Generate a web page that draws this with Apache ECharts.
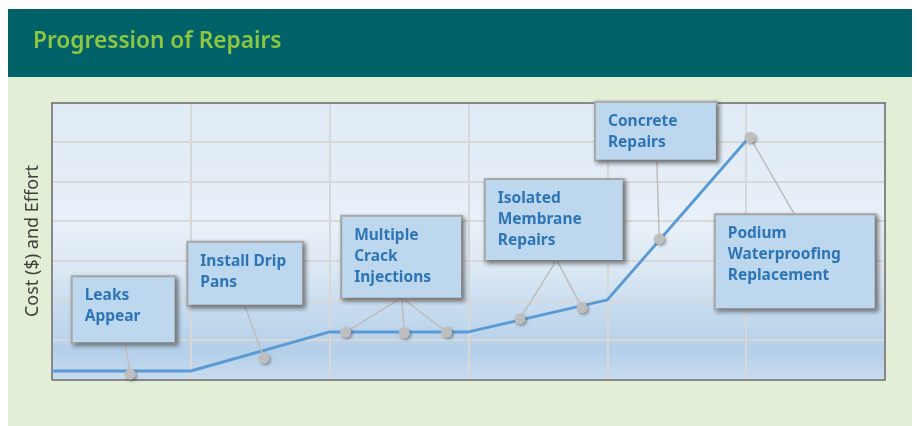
<!DOCTYPE html>
<html>
<head>
<meta charset="utf-8">
<script src="https://cdn.jsdelivr.net/npm/echarts@6/dist/echarts.min.js"></script>
<style>
html,body{margin:0;padding:0;background:#fff;}
#chart{width:917px;height:426px;}
</style>
</head>
<body>
<div id="chart"></div>
<script>
// ---- data ----
const chartTitle = 'Progression of Repairs';
const yAxisTitle = 'Cost ($) and Effort';
// main cost curve (x in column units, y in row units)
const curveX = [0, 1, 2, 3, 4, 5.02];
const curveY = [0.21, 0.21, 1.20, 1.20, 2.01, 6.12];
// event markers on the curve
const markerX = [0.564, 1.527, 2.115, 2.538, 2.843, 3.371, 3.818, 4.374, 5.028];
const markerY = [0.13, 0.53, 1.19, 1.17, 1.19, 1.53, 1.81, 3.55, 6.12];
// callout texts and which markers they point to
const calloutText = ['Leaks\nAppear', 'Install Drip\nPans', 'Multiple\nCrack\nInjections',
  'Isolated\nMembrane\nRepairs', 'Concrete\nRepairs', 'Podium\nWaterproofing\nReplacement'];
const calloutMarkers = [[0], [1], [2, 3, 4], [5, 6], [7], [8]];

// ---- layout (annotation placement) ----
const boxLeft   = [0.149, 0.982, 2.090, 3.124, 3.918, 4.781];
const boxTop    = [2.582, 3.457, 4.115, 5.044, 7.000, 4.151];
const boxW      = [102, 114, 119, 137, 120, 159];
const boxH      = [65, 62, 81, 80, 57, 93];
const anchorX   = [0.526, 1.385, 2.519, 3.635, 4.356, 5.352];
const anchorY   = [0.934, 1.898, 2.065, 3.020, 5.550, 4.150];

const chart = echarts.init(document.getElementById('chart'), null, {renderer: 'canvas'});

const curveData = curveX.map((x, i) => [x, curveY[i]]);
const markerData = markerX.map((x, i) => [x, markerY[i]]);
const leaderData = [];
calloutMarkers.forEach((ms, i) => {
  ms.forEach(m => leaderData.push({coords: [[anchorX[i], anchorY[i]], [markerX[m], markerY[m]]]}));
});
const calloutData = calloutText.map((t, i) => ({
  value: [boxLeft[i], boxTop[i]],
  label: {formatter: t, width: boxW[i] - 24, height: boxH[i] - 16}
}));

const FONT = '"Noto Sans", "Open Sans", sans-serif';
const frameLine = {show: true, onZero: false, lineStyle: {color: '#6E6E6E', width: 1.5}};
const hiddenAxis = {axisLabel: {show: false}, axisTick: {show: false}, splitLine: {show: false}};

chart.setOption({
  animation: false,
  graphic: [
    {type: 'rect', z: -10, shape: {x: 8, y: 77, width: 904, height: 349}, style: {fill: '#E2EFD6'}},
    {type: 'rect', z: -10, shape: {x: 8, y: 9, width: 904, height: 68}, style: {fill: '#006269'}},
    {type: 'text', z: 10, x: 33, y: 42, style: {text: chartTitle, fill: '#8DC641',
      font: '600 22.7px ' + FONT, verticalAlign: 'middle', align: 'left'}}
  ],
  grid: {
    show: true, left: 52, right: 32, top: 102.7, bottom: 46.7,
    borderWidth: 0,
    backgroundColor: {
      type: 'linear', x: 0, y: 0, x2: 0, y2: 1,
      colorStops: [
        {offset: 0, color: '#E0EBF6'},
        {offset: 0.45, color: '#E8F0F8'},
        {offset: 0.6, color: '#DCE8F4'},
        {offset: 0.75, color: '#C6DBEF'},
        {offset: 0.9, color: '#B4CFE9'},
        {offset: 1, color: '#C8DCEF'}
      ]
    }
  },
  xAxis: [
    {
      type: 'value', min: 0, max: 6, interval: 1, position: 'bottom',
      axisLabel: {show: false}, axisTick: {show: false}, axisLine: frameLine, z: 2,
      splitLine: {show: true, lineStyle: {color: '#D8D8D8', width: 2}}
    },
    Object.assign({type: 'value', min: 0, max: 6, interval: 1, position: 'top', axisLine: frameLine, z: 2}, hiddenAxis)
  ],
  yAxis: [
    {
      type: 'value', min: 0, max: 7, interval: 1, position: 'left',
      name: yAxisTitle, nameLocation: 'middle', nameGap: 10,
      nameTextStyle: {fontSize: 18, color: '#404040', fontFamily: FONT},
      axisLabel: {show: false}, axisTick: {show: false}, axisLine: frameLine, z: 2,
      splitLine: {show: true, lineStyle: {color: '#D8D8D8', width: 2}}
    },
    Object.assign({type: 'value', min: 0, max: 7, interval: 1, position: 'right', axisLine: frameLine, z: 2}, hiddenAxis)
  ],
  series: [
    {
      type: 'line', data: curveData, showSymbol: false, symbol: 'none', silent: true, z: 3,
      lineStyle: {color: '#5B9BD5', width: 3}
    },
    {
      type: 'lines', coordinateSystem: 'cartesian2d', data: leaderData, silent: true, z: 4,
      lineStyle: {color: '#BDBDBD', width: 1.5, opacity: 1, curveness: 0}
    },
    {
      type: 'scatter', data: markerData, symbolSize: 11, silent: true, z: 5,
      itemStyle: {color: '#BEBEBE', opacity: 1, shadowColor: 'rgba(0,0,0,0.35)', shadowBlur: 3, shadowOffsetX: 1.5, shadowOffsetY: 1.5}
    },
    {
      type: 'scatter', data: calloutData, symbolSize: 0, silent: true, z: 6,
      itemStyle: {opacity: 1},
      label: {
        show: true, position: [0, 0], align: 'left', verticalAlign: 'top', opacity: 1,
        fontFamily: FONT, fontWeight: 'bold', fontSize: 15.5, lineHeight: 21,
        color: '#2E75B6', backgroundColor: '#BDD7EE',
        borderColor: '#ABABAB', borderWidth: 2, padding: [8, 12],
        shadowColor: 'rgba(0,0,0,0.35)', shadowBlur: 4, shadowOffsetX: 2, shadowOffsetY: 2
      }
    }
  ]
});
</script>
</body>
</html>
